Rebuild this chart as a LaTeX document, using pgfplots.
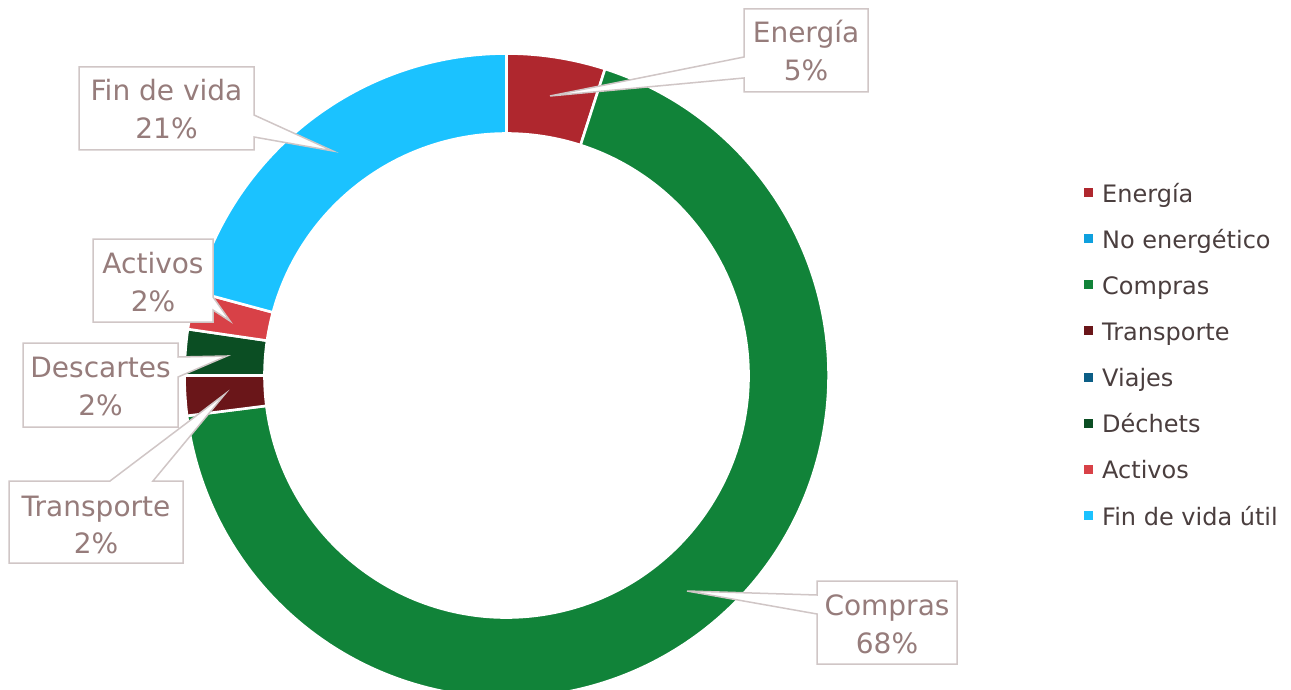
\documentclass[border=0pt]{standalone}
\usepackage{pgfplots}
\pgfplotsset{compat=1.18}
\usepackage{fontspec}
\setmainfont{DejaVu Sans}

\definecolor{cEnergia}{RGB}{175,39,46}
\definecolor{cNoEnerg}{RGB}{14,160,222}
\definecolor{cCompras}{RGB}{17,131,57}
\definecolor{cTransporte}{RGB}{106,22,25}
\definecolor{cViajes}{RGB}{12,94,134}
\definecolor{cDechets}{RGB}{11,78,35}
\definecolor{cActivos}{RGB}{216,65,71}
\definecolor{cFin}{RGB}{27,194,255}
\definecolor{lbltext}{RGB}{150,124,123}
\definecolor{legtext}{RGB}{74,62,62}
\definecolor{boxline}{RGB}{208,198,198}

% data (percent of total)
\def\vEnergia{4.95}
\def\vNoEnerg{0}
\def\vCompras{68.05}
\def\vTransporte{2.0}
\def\vViajes{0}
\def\vDechets{2.3}
\def\vActivos{1.9}
\def\vFin{20.8}

\pgfmathsetmacro\sEnergia{0}
\pgfmathsetmacro\eEnergia{\sEnergia+\vEnergia}
\pgfmathsetmacro\eNoEnerg{\eEnergia+\vNoEnerg}
\pgfmathsetmacro\eCompras{\eNoEnerg+\vCompras}
\pgfmathsetmacro\eTransporte{\eCompras+\vTransporte}
\pgfmathsetmacro\eViajes{\eTransporte+\vViajes}
\pgfmathsetmacro\eDechets{\eViajes+\vDechets}
\pgfmathsetmacro\eActivos{\eDechets+\vActivos}
\pgfmathsetmacro\eFin{\eActivos+\vFin}

\newcommand\ringslice[3]{%
  \fill[#3, draw=white, line width=2.6pt, shift={(axis cs:506.5,375.5)}]
    ({90-3.6*#1}:322pt) arc[start angle={90-3.6*#1}, end angle={90-3.6*#2}, radius=322pt]
    -- ({90-3.6*#2}:242pt) arc[start angle={90-3.6*#2}, end angle={90-3.6*#1}, radius=242pt]
    -- cycle;}

\newcommand\lblfont{\fontsize{28}{33}\selectfont}
\newcommand\legfont{\fontsize{24}{28}\selectfont}

\begin{document}
\begin{tikzpicture}
\useasboundingbox (0,0) rectangle (1291pt,690pt);
\clip (0,0) rectangle (1291pt,690pt);
\begin{axis}[
  at={(0,0)}, anchor=south west,
  width=1291pt, height=690pt, scale only axis,
  xmin=0, xmax=1291, ymin=0, ymax=690, y dir=reverse,
  axis lines=none, clip=false,
]
% ring slices
\ringslice{\sEnergia}{\eEnergia}{cEnergia}
\ringslice{\eNoEnerg}{\eCompras}{cCompras}
\ringslice{\eCompras}{\eTransporte}{cTransporte}
\ringslice{\eViajes}{\eDechets}{cDechets}
\ringslice{\eDechets}{\eActivos}{cActivos}
\ringslice{\eActivos}{\eFin}{cFin}

% callouts
\begin{scope}[every path/.style={draw=boxline, fill=white, line width=1.5pt, line join=miter}]
\path (axis cs:744,9) -- (axis cs:868,9) -- (axis cs:868,92) -- (axis cs:744,92) -- (axis cs:744,78) -- (axis cs:550,96) -- (axis cs:744,57) -- cycle;
\path (axis cs:79,67) -- (axis cs:254,67) -- (axis cs:254,115) -- (axis cs:333,151) -- (axis cs:254,137) -- (axis cs:254,150) -- (axis cs:79,150) -- cycle;
\path (axis cs:93,239) -- (axis cs:213,239) -- (axis cs:213,297) -- (axis cs:230,321) -- (axis cs:213,310) -- (axis cs:213,322) -- (axis cs:93,322) -- cycle;
\path (axis cs:23,343) -- (axis cs:178,343) -- (axis cs:178,357) -- (axis cs:227,356) -- (axis cs:178,377) -- (axis cs:178,427) -- (axis cs:23,427) -- cycle;
\path (axis cs:9,481) -- (axis cs:110,481) -- (axis cs:225,394) -- (axis cs:153,481) -- (axis cs:183,481) -- (axis cs:183,563) -- (axis cs:9,563) -- cycle;
\path (axis cs:817,581) -- (axis cs:957,581) -- (axis cs:957,664) -- (axis cs:817,664) -- (axis cs:817,614) -- (axis cs:687,591) -- (axis cs:817,595) -- cycle;
\end{scope}

\begin{scope}[every node/.style={anchor=base, inner sep=0pt, font=\lblfont, text=lbltext}]
\node at (axis cs:806,43) {Energía};
\node at (axis cs:806,81) {5\%};
\node at (axis cs:166.5,101) {Fin de vida};
\node at (axis cs:166.5,139) {21\%};
\node at (axis cs:153,273) {Activos};
\node at (axis cs:153,311) {2\%};
\node at (axis cs:100.5,377) {Descartes};
\node at (axis cs:100.5,415) {2\%};
\node at (axis cs:96,516) {Transporte};
\node at (axis cs:96,553) {2\%};
\node at (axis cs:887,615) {Compras};
\node at (axis cs:887,653) {68\%};
\end{scope}

% legend
\begin{scope}[every node/.style={anchor=base west, inner sep=0pt, font=\legfont, text=legtext}]
\fill[cEnergia] (axis cs:1084,188) rectangle (axis cs:1093,197);
\node at (axis cs:1102,202) {Energía};
\fill[cNoEnerg] (axis cs:1084,234.1) rectangle (axis cs:1093,243.1);
\node at (axis cs:1102,248.1) {No energético};
\fill[cCompras] (axis cs:1084,280.3) rectangle (axis cs:1093,289.3);
\node at (axis cs:1102,294.3) {Compras};
\fill[cTransporte] (axis cs:1084,326.4) rectangle (axis cs:1093,335.4);
\node at (axis cs:1102,340.4) {Transporte};
\fill[cViajes] (axis cs:1084,372.6) rectangle (axis cs:1093,381.6);
\node at (axis cs:1102,386.6) {Viajes};
\fill[cDechets] (axis cs:1084,418.7) rectangle (axis cs:1093,427.7);
\node at (axis cs:1102,432.7) {Déchets};
\fill[cActivos] (axis cs:1084,464.9) rectangle (axis cs:1093,473.9);
\node at (axis cs:1102,478.9) {Activos};
\fill[cFin] (axis cs:1084,511) rectangle (axis cs:1093,520);
\node at (axis cs:1102,525) {Fin de vida útil};
\end{scope}
\end{axis}
\end{tikzpicture}
\end{document}
